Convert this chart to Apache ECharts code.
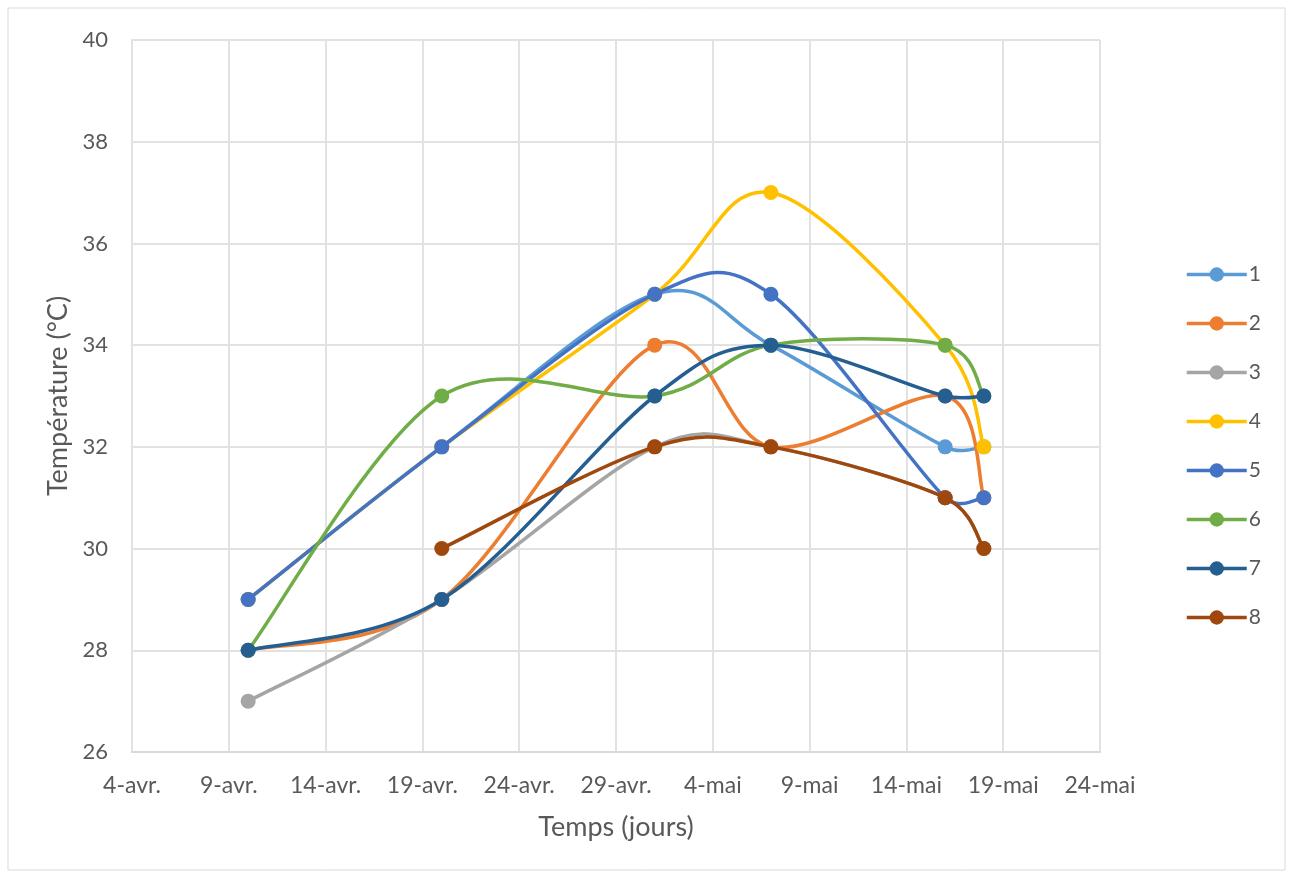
<!DOCTYPE html>
<html>
<head>
<meta charset="utf-8">
<script src="https://cdn.jsdelivr.net/npm/echarts@6/dist/echarts.min.js"></script>
<style>
  html, body { margin: 0; padding: 0; background: #ffffff; }
  #chart { width: 1295px; height: 876px; }
</style>
</head>
<body>
<div id="chart"></div>
<script>
// Axis origin and tick labels (one tick every 5 days)
const startDate = '2019-04-04';
const tickLabels = ['4-avr.', '9-avr.', '14-avr.', '19-avr.', '24-avr.', '29-avr.',
                    '4-mai', '9-mai', '14-mai', '19-mai', '24-mai'];

// Measurement dates
const dates = ['2019-04-10', '2019-04-20', '2019-05-01', '2019-05-07', '2019-05-16', '2019-05-18'];

// Temperatures (°C) per series; null = no reading
const s1 = [29, 32, 35, 34, 32, 32];
const s2 = [28, 29, 34, 32, 33, 31];
const s3 = [27, 29, 32, 32, 31, 30];
const s4 = [29, 32, 35, 37, 34, 32];
const s5 = [29, 32, 35, 35, 31, 31];
const s6 = [28, 33, 33, 34, 34, 33];
const s7 = [28, 29, 33, 34, 33, 33];
const s8 = [null, 30, 32, 32, 31, 30];

const seriesNames = ['1', '2', '3', '4', '5', '6', '7', '8'];
const seriesValues = [s1, s2, s3, s4, s5, s6, s7, s8];
const colors = ['#5B9BD5', '#ED7D31', '#A5A5A5', '#FFC000', '#4472C4', '#70AD47', '#255E91', '#9E480E'];

const DAY = 86400000;
const dayOffset = d => Math.round((Date.parse(d) - Date.parse(startDate)) / DAY);
const xs = dates.map(dayOffset);

const font = 'Lato, "Open Sans", sans-serif';
const textColor = '#595959';
const LINE_W = 3.5;
const MARK_R = 7.5;

const dist = (a, b) => Math.hypot(b[0] - a[0], b[1] - a[1]);

// Smoothed curve: cubic Bézier segments whose tangents follow the neighbouring
// points (1/6 of the chord), capped at half of the segment length, in pixel space.
function curveRenderer(points, color) {
  return function (params, api) {
    const i = params.dataIndex;
    const P = points.map(p => api.coord(p));
    const children = [];
    if (i < P.length - 1) {
      const p0 = P[i - 1] || P[i];
      const p1 = P[i];
      const p2 = P[i + 1];
      const p3 = P[i + 2] || P[i + 1];
      const d12 = dist(p1, p2);
      const d02 = dist(p0, p2);
      const d13 = dist(p1, p3);
      const f1 = d02 > 0 ? Math.min(1 / 6, d12 / (2 * d02)) : 0;
      const f2 = d13 > 0 ? Math.min(1 / 6, d12 / (2 * d13)) : 0;
      children.push({
        type: 'bezierCurve',
        z2: 1,
        shape: {
          x1: p1[0], y1: p1[1], x2: p2[0], y2: p2[1],
          cpx1: p1[0] + (p2[0] - p0[0]) * f1,
          cpy1: p1[1] + (p2[1] - p0[1]) * f1,
          cpx2: p2[0] - (p3[0] - p1[0]) * f2,
          cpy2: p2[1] - (p3[1] - p1[1]) * f2
        },
        style: { stroke: color, lineWidth: LINE_W, fill: 'none', lineCap: 'round' }
      });
    }
    children.push({
      type: 'circle',
      z2: 10,
      shape: { cx: P[i][0], cy: P[i][1], r: MARK_R },
      style: { fill: color }
    });
    return { type: 'group', children };
  };
}

const seriesPoints = seriesValues.map(vals =>
  vals.map((v, j) => v === null ? null : [xs[j], v]).filter(p => p !== null));

// Line series only provide the legend entries (line + marker icon)
const legendSeries = seriesNames.map((name, i) => ({
  name,
  type: 'line',
  symbol: 'circle',
  symbolSize: 14,
  lineStyle: { width: LINE_W, color: colors[i] },
  itemStyle: { color: colors[i] },
  data: []
}));

const curveSeries = seriesNames.map((name, i) => ({
  name,
  type: 'custom',
  z: 3 + i,
  encode: { x: 0, y: 1 },
  renderItem: curveRenderer(seriesPoints[i], colors[i]),
  data: seriesPoints[i]
}));

const chart = echarts.init(document.getElementById('chart'), null, { renderer: 'canvas' });

chart.setOption({
  backgroundColor: '#ffffff',
  animation: false,
  color: colors,
  graphic: [{
    type: 'rect',
    shape: { x: 8, y: 8, width: 1277, height: 862 },
    style: { fill: 'none', stroke: '#d9d9d9', lineWidth: 1 },
    silent: true,
    z: -1
  }],
  grid: { left: 132, right: 195, top: 40, bottom: 124 },
  legend: {
    orient: 'vertical',
    left: 1180,
    top: 259,
    itemWidth: 60,
    itemHeight: 18,
    itemGap: 28,
    lineStyle: { width: LINE_W },
    textStyle: { fontFamily: font, fontSize: 21, lineHeight: 18, color: textColor, padding: [0, 0, 0, -3] },
    data: seriesNames
  },
  xAxis: {
    type: 'value',
    min: 0,
    max: 50,
    interval: 5,
    name: 'Temps (jours)',
    nameLocation: 'middle',
    nameGap: 62,
    nameTextStyle: { fontFamily: font, fontSize: 27, color: textColor },
    axisLine: { show: true, lineStyle: { color: '#d9d9d9', width: 2 } },
    axisTick: { show: false },
    axisLabel: {
      fontFamily: font, fontSize: 23, color: textColor, margin: 22,
      formatter: v => tickLabels[Math.round(v / 5)] || ''
    },
    splitLine: { show: true, lineStyle: { color: '#e2e2e2', width: 2 } }
  },
  yAxis: {
    type: 'value',
    min: 26,
    max: 40,
    interval: 2,
    name: 'Température (°C)',
    nameLocation: 'middle',
    nameGap: 60,
    nameRotate: 90,
    nameTextStyle: { fontFamily: font, fontSize: 27, color: textColor },
    axisLine: { show: true, lineStyle: { color: '#e2e2e2', width: 2 } },
    axisTick: { show: false },
    axisLabel: { fontFamily: font, fontSize: 22, color: textColor, margin: 24 },
    splitLine: { show: true, lineStyle: { color: '#e2e2e2', width: 2 } }
  },
  series: legendSeries.concat(curveSeries)
});
</script>
</body>
</html>
